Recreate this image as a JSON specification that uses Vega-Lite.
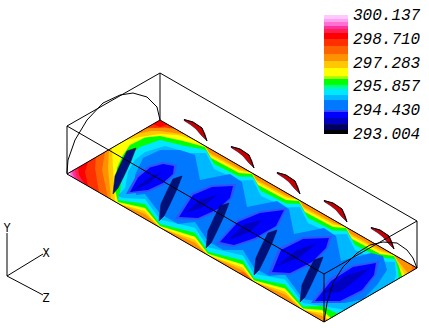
{"$schema":"https://vega.github.io/schema/vega-lite/v6.json","width":429,"height":328,"padding":0,"autosize":{"type":"none"},"background":"white","config":{"view":{"stroke":null}},"resolve":{"scale":{"y":"independent"}},
"layer":[
{"data":{"format":{"type":"json","property":"features"},"values":{"type":"FeatureCollection","features":[
{"type":"Feature","properties":{"t":298.698},"geometry":{"type":"Polygon","coordinates":[[[67,174],[160,120],[417,268],[324,322],[67,174]]]}},
{"type":"Feature","properties":{"t":299.058},"geometry":{"type":"Polygon","coordinates":[[[67,174],[78,167.6],[79,175],[85,184.4],[67,174]]]}},
{"type":"Feature","properties":{"t":299.298},"geometry":{"type":"Polygon","coordinates":[[[67,174],[75,169.4],[76,176],[80,181.5],[67,174]]]}},
{"type":"Feature","properties":{"t":299.478},"geometry":{"type":"Polygon","coordinates":[[[67,174],[72,171.1],[73,175],[75,178.6],[67,174]]]}},
{"type":"Feature","properties":{"t":299.898},"geometry":{"type":"Polygon","coordinates":[[[67,174],[70,172.3],[71,176.3],[67,174]]]}},
{"type":"Feature","properties":{"t":298.279},"geometry":{"type":"Polygon","coordinates":[[[88,161.8],[85,172],[88,186.1],[324,322],[417,268],[168,124.6],[160,127],[153,124],[88,161.8]]]}},
{"type":"Feature","properties":{"t":297.8},"geometry":{"type":"Polygon","coordinates":[[[96,157.2],[95,168],[99,192.4],[324,322],[417,268],[178,130.4],[165,127],[155,128],[147,127.5],[96,157.2]]]}},
{"type":"Feature","properties":{"t":297.38},"geometry":{"type":"Polygon","coordinates":[[[105,151.9],[145,128.7],[153,128],[165,128],[175,128.6],[412,265.2],[412,270.9],[324,322],[254,281.7],[252,277],[243,272],[238,272.5],[108,198],[102,170],[105,151.9]]]}},
{"type":"Feature","properties":{"t":296.96},"geometry":{"type":"Polygon","coordinates":[[[109,149.6],[135,134.5],[150,131],[160,131],[185,134.4],[205,146],[209,152.5],[239,168.6],[252,173],[256,179.5],[286,195.6],[299,200],[303,206.5],[333,222.6],[346,227],[350,233.5],[380,249.6],[394,255],[398,261],[408,273.2],[328,319.7],[322,315.9],[303,310],[285,294.6],[254,281.7],[243,270.4],[208,255.2],[195,242.7],[160,227.6],[145,214],[118,203.4],[111,199.3],[108,168],[109,149.6]]]}},
{"type":"Feature","properties":{"t":296.481},"geometry":{"type":"Polygon","coordinates":[[[112,147.9],[125,140.3],[140,137],[160,134],[178,135],[195,140.2],[205,146],[210,155],[239,170.6],[252,173],[257,182],[286,197.6],[299,200],[304,209],[333,224.6],[346,227],[351,236],[380,251.6],[394,255],[398,264],[405,274.9],[328,319.7],[322,312.9],[303,310],[285,291.6],[254,281.7],[243,267.4],[208,255.2],[195,239.7],[160,227.6],[145,211],[118,203.4],[115,201.6],[113,168],[112,147.9]]]}},
{"type":"Feature","properties":{"t":295.941},"geometry":{"type":"Polygon","coordinates":[[[118,201.9],[115,190],[117,168],[123,155],[130,145],[145,137.5],[160,136],[183,141],[205,147],[211,158],[239,173.1],[252,174],[258,185],[286,200.1],[299,201],[305,212],[333,227.1],[346,228],[352,239],[380,254.1],[394,256],[399,266],[402,276.7],[331,317.9],[322,309.9],[303,308.5],[285,288.6],[254,280.2],[243,264.4],[208,253.7],[195,236.7],[160,226.1],[145,208],[118,201.9]]]}},
{"type":"Feature","properties":{"t":295.342},"geometry":{"type":"Polygon","coordinates":[[[118,199.9],[120,192],[123,170],[130,155],[140,147],[160,140],[185,146],[206,150],[214,164],[239,176.6],[253,177],[261,191],[286,203.6],[300,204],[308,218],[333,230.6],[347,231],[355,245],[380,257.6],[395,259],[398,270],[399,278.5],[338,314],[322,305.9],[303,306.5],[285,284.6],[254,278.2],[243,260.4],[208,251.7],[195,232.7],[160,224.1],[145,204],[118,199.9]]]}},
{"type":"Feature","properties":{"t":295.042},"geometry":{"type":"Polygon","coordinates":[[[118,195.4],[125,188],[128,172],[135,160],[145,152],[165,146],[190,153],[206,153],[214,169],[239,180.6],[253,180],[261,196],[286,207.6],[300,207],[308,223],[333,234.6],[347,234],[355,250],[380,261.6],[395,262],[396,275],[394,281.4],[345,310],[322,306],[303,303],[285,279.6],[254,273.7],[243,255.4],[208,247.2],[195,227.7],[160,219.6],[145,199],[122,198],[118,195.4]]]}},
{"type":"Feature","properties":{"t":294.443},"geometry":{"type":"Polygon","coordinates":[[[136,195],[135,175],[143,158],[160,150],[180,150],[195,155],[200,180],[230,174],[242,182],[247,207],[277,201],[289,209],[294,234],[324,228],[336,236],[341,261],[371,253],[383,256],[387,270],[377,285],[363,299.3],[345,303],[322,302],[303,299],[285,274.6],[269,276],[254,267.7],[243,250],[223,250],[208,241.2],[195,222],[178,224],[160,213.6],[145,194],[136,195]]]}},
{"type":"Feature","properties":{"t":294.323},"geometry":{"type":"Polygon","coordinates":[[[177,165],[163,162],[149,165.5],[136,176],[126,194],[148,192],[164,185],[175,174],[177,165]]]}},
{"type":"Feature","properties":{"t":293.963},"geometry":{"type":"Polygon","coordinates":[[[174,166],[163,164],[150,167.5],[138,177.5],[130,192],[148,190],[163,183],[173,174],[174,166]]]}},
{"type":"Feature","properties":{"t":293.603},"geometry":{"type":"Polygon","coordinates":[[[162,172],[150,177],[130,192],[148,184],[162,172]]]}},
{"type":"Feature","properties":{"t":294.323},"geometry":{"type":"Polygon","coordinates":[[[236,184],[212,185],[192,193],[175,219],[198,220],[219,211],[232,198],[236,184]]]}},
{"type":"Feature","properties":{"t":293.963},"geometry":{"type":"Polygon","coordinates":[[[233,186],[212,187],[193,195],[179,217],[198,218],[218,209],[230,198],[233,186]]]}},
{"type":"Feature","properties":{"t":293.603},"geometry":{"type":"Polygon","coordinates":[[[217,195],[200,200],[185,213],[203,207],[217,195]]]}},
{"type":"Feature","properties":{"t":294.323},"geometry":{"type":"Polygon","coordinates":[[[287,208],[260,211],[237,220],[216,244],[233,247],[256,240],[278,226],[287,208]]]}},
{"type":"Feature","properties":{"t":293.963},"geometry":{"type":"Polygon","coordinates":[[[284,210],[260,213],[238,222],[220,242],[234,245],[255,238],[276,226],[284,210]]]}},
{"type":"Feature","properties":{"t":293.603},"geometry":{"type":"Polygon","coordinates":[[[262,220],[245,224],[228,240],[250,232],[262,220]]]}},
{"type":"Feature","properties":{"t":294.323},"geometry":{"type":"Polygon","coordinates":[[[332,236],[303,237],[279,248],[268,274],[290,275],[313,264],[328,248],[332,236]]]}},
{"type":"Feature","properties":{"t":293.963},"geometry":{"type":"Polygon","coordinates":[[[329,238],[303,239],[281,250],[272,272],[290,273],[312,262],[326,248],[329,238]]]}},
{"type":"Feature","properties":{"t":293.603},"geometry":{"type":"Polygon","coordinates":[[[317,243],[297,250],[275,267],[300,257],[317,243]]]}},
{"type":"Feature","properties":{"t":294.323},"geometry":{"type":"Polygon","coordinates":[[[379,261],[353,265],[329,279],[311,303],[340,303],[363,292],[376,275],[379,261]]]}},
{"type":"Feature","properties":{"t":293.963},"geometry":{"type":"Polygon","coordinates":[[[376,263],[353,267],[331,281],[315,301],[340,301],[362,290],[374,275],[376,263]]]}},
{"type":"Feature","properties":{"t":293.603},"geometry":{"type":"Polygon","coordinates":[[[370,268],[345,276],[322,293],[340,292],[356,280],[370,268]]]}}
]}},
"mark":{"type":"geoshape","strokeWidth":0},
"projection":{"type":"identity","scale":1,"translate":[0,0]},
"encoding":{"color":{"field":"properties.t","type":"quantitative","legend":null,"scale":{"type":"threshold","domain":[293.244,293.603,293.963,294.323,294.443,295.042,295.342,295.701,295.941,296.301,296.481,296.96,297.38,297.8,298.279,298.698,299.058,299.298,299.478,299.718,299.898],"range":["#000000","#000060","#0000c0","#0000ff","#3050ff","#0078ff","#00b8ff","#00e8ff","#00ff90","#00ff00","#b0ff00","#ffff00","#ffc800","#ff9000","#ff6000","#ff3000","#ff0000","#ff2050","#ff30a0","#ff70d0","#ffa0f0","#ffc8ff"]}}}},
{"data":{"format":{"type":"json","property":"features"},"values":{"type":"FeatureCollection","features":[
{"type":"Feature","properties":{"b":"n"},"geometry":{"type":"Polygon","coordinates":[[[136,148],[127,151],[121,163],[115,176],[113,194],[118,188],[124,176],[131,161],[136,148]]]}},
{"type":"Feature","properties":{"b":"n"},"geometry":{"type":"Polygon","coordinates":[[[182,176],[173,179],[167,191],[161,204],[159,221],[164,216],[170,204],[177,189],[182,176]]]}},
{"type":"Feature","properties":{"b":"n"},"geometry":{"type":"Polygon","coordinates":[[[229,203],[220,206],[214,218],[208,231],[206,248],[211,243],[217,231],[224,216],[229,203]]]}},
{"type":"Feature","properties":{"b":"n"},"geometry":{"type":"Polygon","coordinates":[[[277,230],[268,233],[262,245],[256,258],[254,275],[259,270],[265,258],[272,243],[277,230]]]}},
{"type":"Feature","properties":{"b":"n"},"geometry":{"type":"Polygon","coordinates":[[[323,257],[314,260],[308,272],[302,285],[300,302],[305,297],[311,285],[318,270],[323,257]]]}},
{"type":"Feature","properties":{"b":"r"},"geometry":{"type":"Polygon","coordinates":[[[184,119.5],[193,122],[202,128],[205,134],[207,141],[201,135],[196,129],[191,125],[184,120.5],[184,119.5]]]}},
{"type":"Feature","properties":{"b":"r"},"geometry":{"type":"Polygon","coordinates":[[[231,146.5],[240,149],[249,155],[252,161],[254,168],[248,162],[243,156],[238,152],[231,147.5],[231,146.5]]]}},
{"type":"Feature","properties":{"b":"r"},"geometry":{"type":"Polygon","coordinates":[[[277,172.5],[286,175],[295,181],[298,187],[300,194],[294,188],[289,182],[284,178],[277,173.5],[277,172.5]]]}},
{"type":"Feature","properties":{"b":"r"},"geometry":{"type":"Polygon","coordinates":[[[324,200.5],[333,203],[342,209],[345,215],[347,222],[341,216],[336,210],[331,206],[324,201.5],[324,200.5]]]}},
{"type":"Feature","properties":{"b":"r"},"geometry":{"type":"Polygon","coordinates":[[[371,227.5],[380,230],[389,236],[392,242],[394,249],[388,243],[383,237],[378,233],[371,228.5],[371,227.5]]]}}
]}},
"mark":{"type":"geoshape","stroke":"#000030","strokeWidth":0.5},
"projection":{"type":"identity","scale":1,"translate":[0,0]},
"encoding":{"fill":{"field":"properties.b","type":"nominal","legend":null,"scale":{"domain":["n","r"],"range":["#00107a","#c80000"]}}}},
{"data":{"values":[
{"s":"top","i":0,"x":160,"y":73},{"s":"top","i":1,"x":417,"y":221},{"s":"top","i":2,"x":324,"y":274},{"s":"top","i":3,"x":67,"y":126},{"s":"top","i":4,"x":160,"y":73},
{"s":"v1","i":0,"x":67,"y":126},{"s":"v1","i":1,"x":67,"y":174},
{"s":"v2","i":0,"x":160,"y":73},{"s":"v2","i":1,"x":160,"y":120},
{"s":"v3","i":0,"x":417,"y":221},{"s":"v3","i":1,"x":417,"y":268},
{"s":"v4","i":0,"x":324,"y":274},{"s":"v4","i":1,"x":324,"y":322},
{"s":"plate","i":0,"x":67,"y":174},{"s":"plate","i":1,"x":160,"y":120},{"s":"plate","i":2,"x":417,"y":268},{"s":"plate","i":3,"x":324,"y":322},{"s":"plate","i":4,"x":67,"y":174},
{"s":"arc1","i":0,"x":67,"y":173},{"s":"arc1","i":1,"x":68,"y":160},{"s":"arc1","i":2,"x":75,"y":140},{"s":"arc1","i":3,"x":87,"y":120},{"s":"arc1","i":4,"x":103,"y":103},{"s":"arc1","i":5,"x":120,"y":95},{"s":"arc1","i":6,"x":133,"y":93},{"s":"arc1","i":7,"x":147,"y":97},{"s":"arc1","i":8,"x":157,"y":107},{"s":"arc1","i":9,"x":160,"y":120},
{"s":"arc2","i":0,"x":324,"y":322},{"s":"arc2","i":1,"x":327,"y":303},{"s":"arc2","i":2,"x":333,"y":283},{"s":"arc2","i":3,"x":343,"y":267},{"s":"arc2","i":4,"x":357,"y":253},{"s":"arc2","i":5,"x":370,"y":245},{"s":"arc2","i":6,"x":383,"y":242},{"s":"arc2","i":7,"x":397,"y":243},{"s":"arc2","i":8,"x":407,"y":250},{"s":"arc2","i":9,"x":413,"y":258},{"s":"arc2","i":10,"x":417,"y":268},
{"s":"ra","i":0,"x":184,"y":119.5},{"s":"ra","i":1,"x":193,"y":122},{"s":"ra","i":2,"x":202,"y":128},{"s":"ra","i":3,"x":207,"y":141},
{"s":"rb","i":0,"x":231,"y":146.5},{"s":"rb","i":1,"x":240,"y":149},{"s":"rb","i":2,"x":249,"y":155},{"s":"rb","i":3,"x":254,"y":168},
{"s":"rc","i":0,"x":277,"y":172.5},{"s":"rc","i":1,"x":286,"y":175},{"s":"rc","i":2,"x":295,"y":181},{"s":"rc","i":3,"x":300,"y":194},
{"s":"rd","i":0,"x":324,"y":200.5},{"s":"rd","i":1,"x":333,"y":203},{"s":"rd","i":2,"x":342,"y":209},{"s":"rd","i":3,"x":347,"y":222},
{"s":"re","i":0,"x":371,"y":227.5},{"s":"re","i":1,"x":380,"y":230},{"s":"re","i":2,"x":389,"y":236},{"s":"re","i":3,"x":394,"y":249},
{"s":"ay","i":0,"x":7,"y":276},{"s":"ay","i":1,"x":7,"y":233},
{"s":"ax","i":0,"x":7,"y":276},{"s":"ax","i":1,"x":43,"y":254},
{"s":"az","i":0,"x":7,"y":276},{"s":"az","i":1,"x":43,"y":295}
]},
"mark":{"type":"line","color":"black","strokeWidth":1,"interpolate":"linear"},
"encoding":{"x":{"field":"x","type":"quantitative","axis":null,"scale":{"domain":[0,429]}},"y":{"field":"y","type":"quantitative","axis":null,"scale":{"domain":[328,0]}},"detail":{"field":"s"},"order":{"field":"i"}}},
{"data":{"values":[{"x":7,"y":228,"l":"Y"},{"x":46,"y":253,"l":"X"},{"x":46,"y":298,"l":"Z"}]},
"mark":{"type":"text","font":"Liberation Mono","fontSize":12,"color":"black","align":"center","baseline":"middle"},
"encoding":{"x":{"field":"x","type":"quantitative","axis":null,"scale":{"domain":[0,429]}},"y":{"field":"y","type":"quantitative","axis":null,"scale":{"domain":[328,0]}},"text":{"field":"l"}}},
{"data":{"values":[{"t0":293.004,"t1":293.244},{"t0":293.244,"t1":293.603},{"t0":293.603,"t1":293.963},{"t0":293.963,"t1":294.323},{"t0":294.323,"t1":294.443},{"t0":294.443,"t1":295.042},{"t0":295.042,"t1":295.342},{"t0":295.342,"t1":295.701},{"t0":295.701,"t1":295.941},{"t0":295.941,"t1":296.301},{"t0":296.301,"t1":296.481},{"t0":296.481,"t1":296.96},{"t0":296.96,"t1":297.38},{"t0":297.38,"t1":297.8},{"t0":297.8,"t1":298.279},{"t0":298.279,"t1":298.698},{"t0":298.698,"t1":299.058},{"t0":299.058,"t1":299.298},{"t0":299.298,"t1":299.478},{"t0":299.478,"t1":299.718},{"t0":299.718,"t1":299.898},{"t0":299.898,"t1":300.137}]},
"mark":{"type":"rect"},
"encoding":{"x":{"datum":324,"type":"quantitative","axis":null,"scale":{"domain":[0,429]}},"x2":{"datum":348},
"y":{"field":"t0","type":"quantitative","axis":null,"scale":{"domain":[281.38,301.036]}},"y2":{"field":"t1"},
"color":{"field":"t0","type":"quantitative","legend":null,"scale":{"type":"threshold","domain":[293.244,293.603,293.963,294.323,294.443,295.042,295.342,295.701,295.941,296.301,296.481,296.96,297.38,297.8,298.279,298.698,299.058,299.298,299.478,299.718,299.898],"range":["#000000","#000060","#0000c0","#0000ff","#3050ff","#0078ff","#00b8ff","#00e8ff","#00ff90","#00ff00","#b0ff00","#ffff00","#ffc800","#ff9000","#ff6000","#ff3000","#ff0000","#ff2050","#ff30a0","#ff70d0","#ffa0f0","#ffc8ff"]}}}},
{"data":{"values":[{"t":300.137,"l":"300.137"},{"t":298.71,"l":"298.710"},{"t":297.283,"l":"297.283"},{"t":295.857,"l":"295.857"},{"t":294.43,"l":"294.430"},{"t":293.004,"l":"293.004"}]},
"mark":{"type":"text","font":"Liberation Mono","fontSize":16,"fontStyle":"italic","color":"black","align":"left","baseline":"middle"},
"encoding":{"x":{"datum":353,"type":"quantitative","axis":null,"scale":{"domain":[0,429]}},"y":{"field":"t","type":"quantitative","axis":null,"scale":{"domain":[281.38,301.036]}},"text":{"field":"l"}}}
]}
